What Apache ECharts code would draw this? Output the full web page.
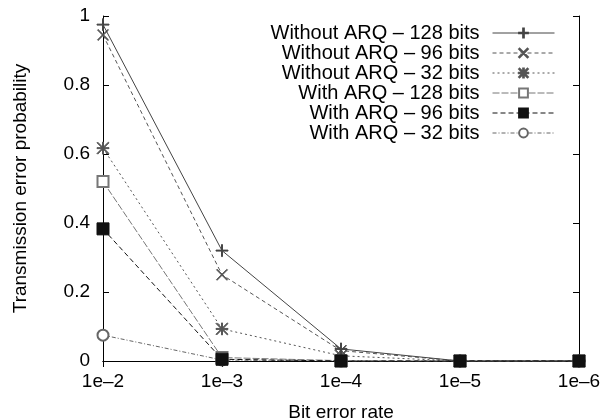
<!DOCTYPE html>
<html>
<head>
<meta charset="utf-8">
<script src="https://cdn.jsdelivr.net/npm/echarts@6/dist/echarts.min.js"></script>
<style>
  html, body { margin: 0; padding: 0; background: #fff; }
  #chart { width: 604px; height: 420px; }
</style>
</head>
<body>
<div id="chart"></div>
<script>
// bit error rates on the x axis
var berLabels = ['1e–2', '1e–3', '1e–4', '1e–5', '1e–6'];
var yTicks = [0, 0.2, 0.4, 0.6, 0.8, 1];

var noArq128 = [0.975, 0.32, 0.035, 0, 0];
var noArq96 = [0.945, 0.25, 0.03, 0, 0];
var noArq32 = [0.617, 0.093, 0.015, 0, 0];
var arq128 = [0.52, 0.01, 0.001, 0, 0];
var arq96 = [0.383, 0.005, 0, 0, 0];
var arq32 = [0.075, 0.003, 0, 0, 0];

var names = [
  'Without ARQ – 128 bits',
  'Without ARQ – 96 bits',
  'Without ARQ – 32 bits',
  'With ARQ – 128 bits',
  'With ARQ – 96 bits',
  'With ARQ – 32 bits'
];

// marker shapes drawn as thin filled outlines
var plusPath = 'path://M4.6,0h0.8v4.6h4.6v0.8h-4.6v4.6h-0.8v-4.6h-4.6v-0.8h4.6z';
var crossPath = 'path://M0,0.55L0.55,0L10,9.45L9.45,10ZM9.45,0L10,0.55L0.55,10L0,9.45Z';
var starPath = 'path://M4.6,0h0.8v4.6h4.6v0.8h-4.6v4.6h-0.8v-4.6h-4.6v-0.8h4.6zM0,0.55L0.55,0L10,9.45L9.45,10ZM9.45,0L10,0.55L0.55,10L0,9.45Z';

var FONT = 'Liberation Sans';

function mkSeries(name, data, symbol, size, color, dash, z) {
  return {
    name: name,
    type: 'line',
    data: data,
    symbol: symbol,
    symbolSize: size,
    showAllSymbol: true,
    z: z,
    itemStyle: { color: color, borderColor: color, borderWidth: 1 },
    lineStyle: { color: color, width: 1, type: dash },
    emphasis: { disabled: true },
    animation: false
  };
}

var chart = echarts.init(document.getElementById('chart'));

var tickStyle = { show: true, inside: true, length: 6, lineStyle: { color: '#000', width: 1 } };

chart.setOption({
  backgroundColor: '#fff',
  grid: { left: 103, right: 25, top: 16, bottom: 59, outerBoundsMode: 'none' },
  legend: {
    orient: 'vertical',
    align: 'right',
    right: 49,
    top: 23,
    padding: 0,
    itemGap: 0,
    itemWidth: 62,
    itemHeight: 11,
    lineStyle: { width: 1 },
    textStyle: { fontFamily: FONT, fontSize: 20, color: '#000', lineHeight: 20, padding: [0, 8, 0, 0] },
    data: names
  },
  xAxis: [{
    type: 'category',
    data: berLabels,
    boundaryGap: false,
    name: 'Bit error rate',
    nameLocation: 'middle',
    nameGap: 42,
    nameTextStyle: { fontFamily: FONT, fontSize: 19, color: '#000' },
    axisLine: { lineStyle: { color: '#000', width: 1 } },
    axisTick: tickStyle,
    axisLabel: { fontFamily: FONT, fontSize: 19, color: '#000', margin: 11 },
    splitLine: { show: false }
  }, {
    type: 'category',
    data: berLabels,
    position: 'top',
    boundaryGap: false,
    axisLine: { lineStyle: { color: '#000', width: 1 } },
    axisTick: tickStyle,
    axisLabel: { show: false },
    splitLine: { show: false }
  }],
  yAxis: [{
    type: 'value',
    min: 0,
    max: 1,
    interval: 0.2,
    name: 'Transmission error probability',
    nameLocation: 'middle',
    nameGap: 73,
    nameTextStyle: { fontFamily: FONT, fontSize: 19, color: '#000' },
    axisLine: { show: true, lineStyle: { color: '#000', width: 1 } },
    axisTick: tickStyle,
    axisLabel: {
      fontFamily: FONT, fontSize: 19, color: '#000', margin: 13,
      formatter: function (v) { return yTicks.indexOf(v) >= 0 ? String(v) : ''; }
    },
    splitLine: { show: false }
  }, {
    type: 'value',
    position: 'right',
    min: 0,
    max: 1,
    interval: 0.2,
    axisLine: { show: true, lineStyle: { color: '#000', width: 1 } },
    axisTick: tickStyle,
    axisLabel: { show: false },
    splitLine: { show: false }
  }],
  series: [
    mkSeries(names[0], noArq128, plusPath, 12, '#444', 'solid', 6),
    mkSeries(names[1], noArq96, crossPath, 11, '#555', [4, 3], 5),
    mkSeries(names[2], noArq32, starPath, 12, '#555', [2, 3], 4),
    mkSeries(names[3], arq128, 'emptyRect', 11, '#777', [7, 2], 3),
    mkSeries(names[4], arq96, 'rect', 12, '#111', [5, 3], 7),
    mkSeries(names[5], arq32, 'emptyCircle', 11, '#666', [4, 2, 1, 2], 2)
  ]
});
</script>
</body>
</html>
